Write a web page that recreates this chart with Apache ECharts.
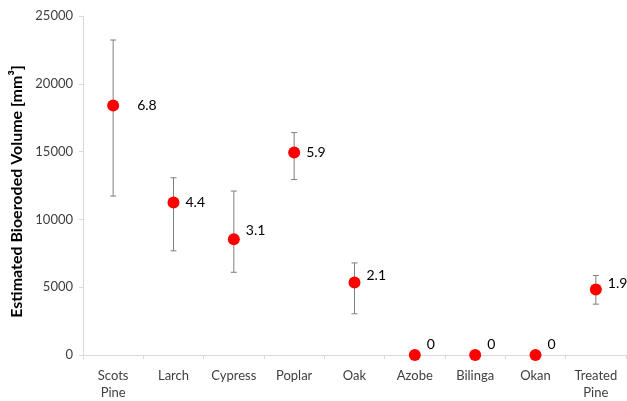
<!DOCTYPE html>
<html>
<head>
<meta charset="utf-8">
<script src="https://cdn.jsdelivr.net/npm/echarts@6/dist/echarts.min.js"></script>
<style>
  html, body { margin: 0; padding: 0; background: #fff; }
  #chart { width: 627px; height: 401px; }
</style>
</head>
<body>
<div id="chart"></div>
<script>
// Wood species tested
const categories = ['Scots\nPine', 'Larch', 'Cypress', 'Poplar', 'Oak', 'Azobe', 'Bilinga', 'Okan', 'Treated\nPine'];
// Mean estimated bioeroded volume (mm³)
const volumes = [18400, 11250, 8530, 14930, 5350, 0, 0, 0, 4830];
// Upper / lower ends of the error bars (mm³)
const errHigh = [23230, 13070, 12090, 16400, 6790, 0, 0, 0, 5860];
const errLow = [11720, 7680, 6100, 12940, 3040, 0, 0, 0, 3750];
// Annotation shown beside each point
const pointLabels = ['6.8', '4.4', '3.1', '5.9', '2.1', '0', '0', '0', '1.9'];
// Label nudges [dx, dy] in pixels
const labelOffsets = [[12, 0], [0, 0], [0, -9], [0, 0], [0, -7], [0, -11], [0, -11], [0, -11], [0, -6]];
// Y axis ticks
const yMin = 0, yMax = 25000, yStep = 5000;

const FONT = 'Lato, "Open Sans", sans-serif';
const chart = echarts.init(document.getElementById('chart'));

const scatterData = volumes.map((v, i) => ({
  value: [i, v],
  label: { offset: labelOffsets[i] }
}));
const errData = volumes.map((v, i) => [i, errLow[i], errHigh[i]]);

chart.setOption({
  animation: false,
  grid: { left: 83, right: 1, top: 16, bottom: 44, containLabel: false },
  xAxis: {
    type: 'category',
    data: categories,
    boundaryGap: true,
    axisLine: { lineStyle: { color: '#d9d9d9', width: 1 } },
    axisTick: { show: true, length: 4, lineStyle: { color: '#d9d9d9' } },
    axisLabel: { color: '#404040', fontSize: 13, fontFamily: FONT, margin: 12, lineHeight: 17, interval: 0 }
  },
  yAxis: {
    type: 'value',
    min: yMin, max: yMax, interval: yStep,
    name: 'Estimated Bioeroded Volume [mm³]',
    nameLocation: 'middle',
    nameGap: 58,
    nameTextStyle: { color: '#000', fontSize: 16, fontWeight: 'bold', fontFamily: FONT, padding: [0, 12, 0, 0] },
    axisLine: { show: true, lineStyle: { color: '#d9d9d9', width: 1 } },
    axisTick: { show: true, length: 4, lineStyle: { color: '#d9d9d9' } },
    splitLine: { show: false },
    axisLabel: {
      color: '#404040', fontSize: 13, fontFamily: FONT, margin: 10,
      formatter: v => String(v)
    }
  },
  series: [
    {
      type: 'custom',
      name: 'error',
      data: errData,
      z: 1,
      renderItem: function (params, api) {
        const x = api.value(0);
        const lo = api.coord([x, api.value(1)]);
        const hi = api.coord([x, api.value(2)]);
        const cap = 3;
        if (api.value(1) === api.value(2)) return null;
        const style = { stroke: '#7f7f7f', lineWidth: 1 };
        return {
          type: 'group',
          children: [
            { type: 'line', shape: { x1: lo[0], y1: lo[1], x2: hi[0], y2: hi[1] }, style: style },
            { type: 'line', shape: { x1: hi[0] - cap, y1: hi[1], x2: hi[0] + cap, y2: hi[1] }, style: style },
            { type: 'line', shape: { x1: lo[0] - cap, y1: lo[1], x2: lo[0] + cap, y2: lo[1] }, style: style }
          ]
        };
      }
    },
    {
      type: 'scatter',
      name: 'volume',
      data: scatterData,
      z: 3,
      symbol: 'circle',
      symbolSize: 12,
      itemStyle: { color: '#ff0000', opacity: 1 },
      label: {
        show: true,
        position: 'right',
        distance: 6,
        color: '#000',
        fontSize: 14,
        fontFamily: FONT,
        formatter: p => pointLabels[p.dataIndex]
      }
    }
  ]
});
</script>
</body>
</html>
